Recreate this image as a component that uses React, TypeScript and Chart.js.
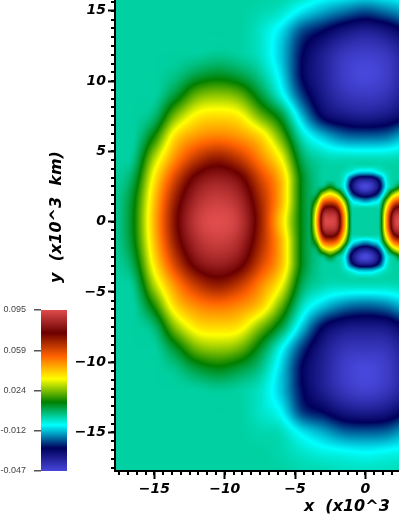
import React, { useEffect, useRef } from "react";
import { Chart, registerables } from "chart.js";

Chart.register(...registerables);

// --- values (field values in units of 10^-3) ---
const baseX = [-18, -16.5, -15, -13.5, -12, -10.5, -9, -7.5, -6, -4.5, -3, -1.5, 0, 1.5, 3];
const baseY = [16.5, 15, 13.5, 12, 10.5, 9, 7.5, 6, 4.5, 3, 1.5, 0, -1.5, -3, -4.5, -6, -7.5, -9, -10.5, -12, -13.5, -15, -16.5, -18];
const baseField = [
  [1, 1, 1, 1, 1, 1, 1, 1, 1, 0, -3, -4, -5, -4, -3],
  [1, 1, 1, 1, 1, 1, 1, 0, -2, -8, -13, -17, -20, -17, -13],
  [1, 1, 1, 1, 1, 1, 1, -2, -9, -21, -27, -33, -36, -33, -27],
  [1, 1, 1, 1, 1, 2, 1, -2, -11, -26, -35, -42, -44, -42, -35],
  [1, 1, 1, 3, 8, 10.5, 8, 2, -9, -27, -36, -44, -47, -44, -36],
  [1, 1, 1, 10, 22, 25, 22, 10, -4, -22, -34, -41, -43, -41, -34],
  [1, 1, 5, 24, 36, 38.5, 36, 23, 10, -12, -28, -33, -35, -33, -28],
  [1, 1, 15.5, 39, 48, 51, 48, 40, 22, -1, -11, -17, -18, -17, -11],
  [1, 3, 28, 49, 63, 69, 63, 50, 34, 7, 0, -1, -1, -1, 0],
  [1, 8, 37, 61, 78, 83, 78, 61, 43, 12, 1, 1, 1, 1, 1],
  [1, 12, 42, 69, 86, 91, 86, 67, 44, 12, 2, 1, 1, 1, 2],
  [1, 13, 44, 72, 90, 95, 90, 69, 40, 12, 2, 1, 1, 1, 2],
  [1, 12, 42, 69, 86, 91, 86, 67, 44, 12, 2, 1, 1, 1, 2],
  [1, 8, 37, 61, 78, 83, 78, 61, 43, 12, 1, 1, 1, 1, 1],
  [1, 3, 28, 49, 63, 69, 63, 50, 34, 7, 0, -1, -1, -1, 0],
  [1, 1, 16, 39, 49, 52, 49, 41, 22, -1, -11, -17, -19, -17, -11],
  [1, 1, 5, 25, 37, 39, 37, 24, 9, -11, -27, -33, -34, -33, -27],
  [1, 1, 1, 11, 23, 26, 23, 11, -5, -22, -34, -41, -42, -41, -34],
  [1, 1, 1, 3, 9, 12, 9, 3, -10, -27, -36, -44, -47, -44, -36],
  [1, 1, 1, 1, 1, 2, 1, -2, -11, -26, -35, -42, -45, -42, -35],
  [1, 1, 1, 1, 1, 1, 1, -2, -7, -22, -27, -33, -35, -33, -27],
  [1, 1, 1, 1, 1, 1, 1, 0, -1, -8, -13, -18, -19, -18, -13],
  [1, 1, 1, 1, 1, 1, 1, 1, 0, -2, -4, -5, -6, -5, -4],
  [1, 1, 1, 1, 1, 1, 1, 1, 1, 0, 0, -1, -1, -1, 0],
];

const coreX = [-4.5, -4, -3.5, -3, -2.5, -2, -1.5, -1, -0.5, 0, 0.5, 1, 1.5, 2, 2.5, 3, 3.5];
const coreY = [4.5, 4, 3.5, 3, 2.5, 2, 1.5, 1, 0.5, 0, -0.5, -1, -1.5, -2, -2.5, -3, -3.5, -4, -4.5];
const coreField = [
  [0, 0, 0, 0, 0, 0, 0, 0, 0, 0, 0, 0, 0, 0, 0, 0, 0],
  [0, 0, 0, 0, 0, 0, 0, -1, -1, -1, -1, -1, 0, 0, 0, 0, 0],
  [0, 0, 0, 0, 0, 0, -2, -6, -11, -12, -11, -6, -2, 0, 0, 0, 0],
  [0, 0, 0, 0, 0, 0, -5, -24, -35, -37, -35, -24, -5, 0, 0, 0, 0],
  [0, 0, 0, 3, 11, 2, -7, -30, -43, -48, -43, -30, -7, 2, 11, 3, 0],
  [0, 0, 3, 24, 33, 24, 3, -21, -33, -37, -33, -21, 3, 24, 33, 24, 3],
  [0, 0, 14, 48, 55, 48, 22, -6, -13, -17, -13, -6, 22, 48, 55, 48, 14],
  [0, 0, 26, 68, 76, 68, 36, 1, -1, -1, -1, 1, 36, 68, 76, 68, 26],
  [0, 0, 33, 82, 88, 82, 45, 3, 0, 0, 0, 3, 45, 82, 88, 82, 33],
  [0, 0, 36, 86, 93, 86, 47, 3, 0, 0, 0, 3, 47, 86, 93, 86, 36],
  [0, 0, 33, 82, 88, 82, 45, 3, 0, 0, 0, 3, 45, 82, 88, 82, 33],
  [0, 0, 26, 68, 76, 68, 36, 1, -1, -1, -1, 1, 36, 68, 76, 68, 26],
  [0, 0, 14, 48, 55, 48, 22, -6, -13, -17, -13, -6, 22, 48, 55, 48, 14],
  [0, 0, 3, 24, 33, 24, 3, -21, -33, -37, -33, -21, 3, 24, 33, 24, 3],
  [0, 0, 0, 3, 11, 2, -7, -30, -43, -48, -43, -30, -7, 2, 11, 3, 0],
  [0, 0, 0, 0, 0, 0, -5, -24, -35, -37, -35, -24, -5, 0, 0, 0, 0],
  [0, 0, 0, 0, 0, 0, -2, -6, -11, -12, -11, -6, -2, 0, 0, 0, 0],
  [0, 0, 0, 0, 0, 0, 0, -1, -1, -1, -1, -1, 0, 0, 0, 0, 0],
  [0, 0, 0, 0, 0, 0, 0, 0, 0, 0, 0, 0, 0, 0, 0, 0, 0],
];

const colorStops = [
  [71, 71, 219],
  [0, 0, 92],
  [0, 255, 255],
  [0, 128, 0],
  [255, 255, 0],
  [255, 97, 0],
  [107, 0, 0],
  [224, 76, 76],
];
const legendValues = [0.095, 0.059, 0.024, -0.012, -0.047];
const legendLabels = ["0.095", "0.059", "0.024", "-0.012", "-0.047"];
const fieldMin = -47;
const fieldMax = 95;

// --- layout of the page ---
const CANVAS_W = 630;
const CANVAS_H = 553;
const CANVAS_TOP = -37;
const FONT = "'DejaVu Sans'";
const minorStep = 5 / 8;

function colorAt(milli: number): number[] {
  let t = (milli - fieldMin) / (fieldMax - fieldMin);
  t = Math.min(1, Math.max(0, t)) * (colorStops.length - 1);
  const i = Math.min(colorStops.length - 2, Math.floor(t));
  const f = t - i;
  const a = colorStops[i];
  const b = colorStops[i + 1];
  return [a[0] + (b[0] - a[0]) * f, a[1] + (b[1] - a[1]) * f, a[2] + (b[2] - a[2]) * f];
}

function spline(p0: number, p1: number, p2: number, p3: number, t: number) {
  const v = 0.5 * (2 * p1 + (p2 - p0) * t + (2 * p0 - 5 * p1 + 4 * p2 - p3) * t * t + (3 * p1 - p0 - 3 * p2 + p3) * t * t * t);
  return Math.min(Math.max(p1, p2), Math.max(Math.min(p1, p2), v));
}

function sample(xs: number[], ys: number[], field: number[][], x: number, y: number) {
  const fx = (x - xs[0]) / (xs[1] - xs[0]);
  const fy = (y - ys[0]) / (ys[1] - ys[0]);
  if (fx < 0 || fy < 0 || fx > xs.length - 1 || fy > ys.length - 1) return null;
  const ix = Math.min(xs.length - 2, Math.floor(fx));
  const iy = Math.min(ys.length - 2, Math.floor(fy));
  const cx = (i: number) => Math.min(xs.length - 1, Math.max(0, i));
  const cy = (i: number) => Math.min(ys.length - 1, Math.max(0, i));
  const rows = [-1, 0, 1, 2].map((d) => {
    const r = field[cy(iy + d)];
    return spline(r[cx(ix - 1)], r[cx(ix)], r[cx(ix + 1)], r[cx(ix + 2)], fx - ix);
  });
  return spline(rows[0], rows[1], rows[2], rows[3], fy - iy);
}

const heatmapPlugin = {
  id: "heatmap",
  beforeDraw(chart: any) {
    const { ctx, chartArea, scales } = chart;
    const left = Math.round(chartArea.left);
    const top = Math.round(chartArea.top);
    const right = Math.min(399, Math.round(chartArea.right));
    const bottom = Math.round(chartArea.bottom);
    const w = right - left;
    const h = bottom - top;
    const off = document.createElement("canvas");
    off.width = w;
    off.height = h;
    const octx = off.getContext("2d")!;
    const img = octx.createImageData(w, h);
    for (let py = 0; py < h; py++) {
      const yv = scales.y.getValueForPixel(top + py + 0.5);
      for (let px = 0; px < w; px++) {
        const xv = scales.x.getValueForPixel(left + px + 0.5);
        const b = sample(baseX, baseY, baseField, xv, yv);
        const c = sample(coreX, coreY, coreField, xv, yv);
        const rgb = colorAt((b === null ? 1 : b) + (c === null ? 0 : c));
        const k = (py * w + px) * 4;
        img.data[k] = rgb[0];
        img.data[k + 1] = rgb[1];
        img.data[k + 2] = rgb[2];
        img.data[k + 3] = 255;
      }
    }
    octx.putImageData(img, 0, 0);
    ctx.drawImage(off, left, top);
  },
  afterDraw(chart: any) {
    const { ctx, chartArea, scales } = chart;
    ctx.save();
    ctx.fillStyle = "#000";
    // minor ticks
    for (let v = -15; v <= scales.x.max; v += minorStep) {
      const px = Math.round(scales.x.getPixelForValue(v));
      ctx.fillRect(px - 1, chartArea.bottom, 2, 4);
    }
    for (let v = -15; v >= scales.x.min; v -= minorStep) {
      const px = Math.round(scales.x.getPixelForValue(v));
      ctx.fillRect(px - 1, chartArea.bottom, 2, 4);
    }
    for (let v = -15; v <= scales.y.max; v += minorStep) {
      const py = Math.round(scales.y.getPixelForValue(v));
      ctx.fillRect(chartArea.left - 4, py - 1, 4, 2);
    }
    for (let v = -15; v >= scales.y.min; v -= minorStep) {
      const py = Math.round(scales.y.getPixelForValue(v));
      ctx.fillRect(chartArea.left - 4, py - 1, 4, 2);
    }
    // colour bar
    const barLeft = 41;
    const barWidth = 26;
    const barTop = 310 - CANVAS_TOP;
    const barHeight = 161;
    for (let i = 0; i < barHeight; i++) {
      const milli = fieldMax - ((i + 0.5) / barHeight) * (fieldMax - fieldMin);
      const c = colorAt(milli);
      ctx.fillStyle = `rgb(${c[0]},${c[1]},${c[2]})`;
      ctx.fillRect(barLeft, barTop + i, barWidth, 1);
    }
    ctx.font = "9px 'Liberation Sans'";
    ctx.textAlign = "right";
    ctx.textBaseline = "middle";
    legendValues.forEach((v, i) => {
      const py = Math.round(barTop + ((0.095 - v) / 0.142) * barHeight);
      ctx.fillStyle = "#555";
      ctx.fillRect(34, py - 1, 7, 1.5);
      ctx.fillStyle = "#444";
      ctx.fillText(legendLabels[i], 26, py);
    });
    ctx.restore();
  },
};

export default function App() {
  const ref = useRef<HTMLCanvasElement>(null);
  useEffect(() => {
    document.body.style.margin = "0";
    document.body.style.overflow = "hidden";
    const points: { x: number; y: number }[] = [];
    baseY.forEach((y, r) => baseX.forEach((x, c) => points.push({ x, y, v: baseField[r][c] } as any)));
    const tickFont = { family: FONT, size: 14, weight: "bold" as const, style: "italic" as const };
    const titleFont = { family: FONT, size: 16, weight: "bold" as const, style: "italic" as const };
    const fmt = (v: any) => String(v).replace("-", "\u2212");
    const noPad = (s: any) => {
      s.paddingTop = 0;
      s.paddingBottom = 0;
      s.paddingLeft = 0;
      s.paddingRight = 0;
    };
    const chart = new Chart(ref.current!, {
      type: "scatter",
      data: { datasets: [{ data: points, pointRadius: 0, pointHoverRadius: 0 }] },
      plugins: [heatmapPlugin],
      options: {
        animation: false,
        responsive: false,
        devicePixelRatio: 1,
        layout: { padding: 0 },
        plugins: { legend: { display: false }, tooltip: { enabled: false } },
        scales: {
          x: {
            type: "linear",
            min: -17.8,
            max: 18.8,
            afterFit: (s: any) => {
              s.height = 45;
              noPad(s);
            },
            border: { color: "#000", width: 2 },
            grid: { drawOnChartArea: false, tickLength: 8, tickWidth: 2, tickColor: "#000" },
            ticks: { stepSize: 5, includeBounds: false, color: "#000", font: tickFont, maxRotation: 0, padding: 2, callback: fmt },
            title: { display: true, text: "x  (x10^3   km)", color: "#000", font: titleFont, padding: { top: 0, bottom: 0 } },
          },
          y: {
            type: "linear",
            min: -17.74,
            max: 18.4,
            afterFit: (s: any) => {
              s.width = 115;
              noPad(s);
            },
            border: { color: "#000", width: 2 },
            grid: { drawOnChartArea: false, tickLength: 7, tickWidth: 2, tickColor: "#000" },
            ticks: { stepSize: 5, includeBounds: false, color: "#000", font: tickFont, padding: 2, callback: fmt },
            title: { display: true, text: "y  (x10^3  km)", color: "#000", font: titleFont, padding: { top: 47, bottom: 0 } },
          },
        },
      },
    } as any);
    return () => chart.destroy();
  }, []);
  return (
    <div style={{ position: "fixed", left: 0, top: 0, width: 399, height: 516, overflow: "hidden", background: "#fff" }}>
      <canvas ref={ref} width={CANVAS_W} height={CANVAS_H} style={{ position: "absolute", left: 0, top: CANVAS_TOP, display: "block" }} />
    </div>
  );
}
